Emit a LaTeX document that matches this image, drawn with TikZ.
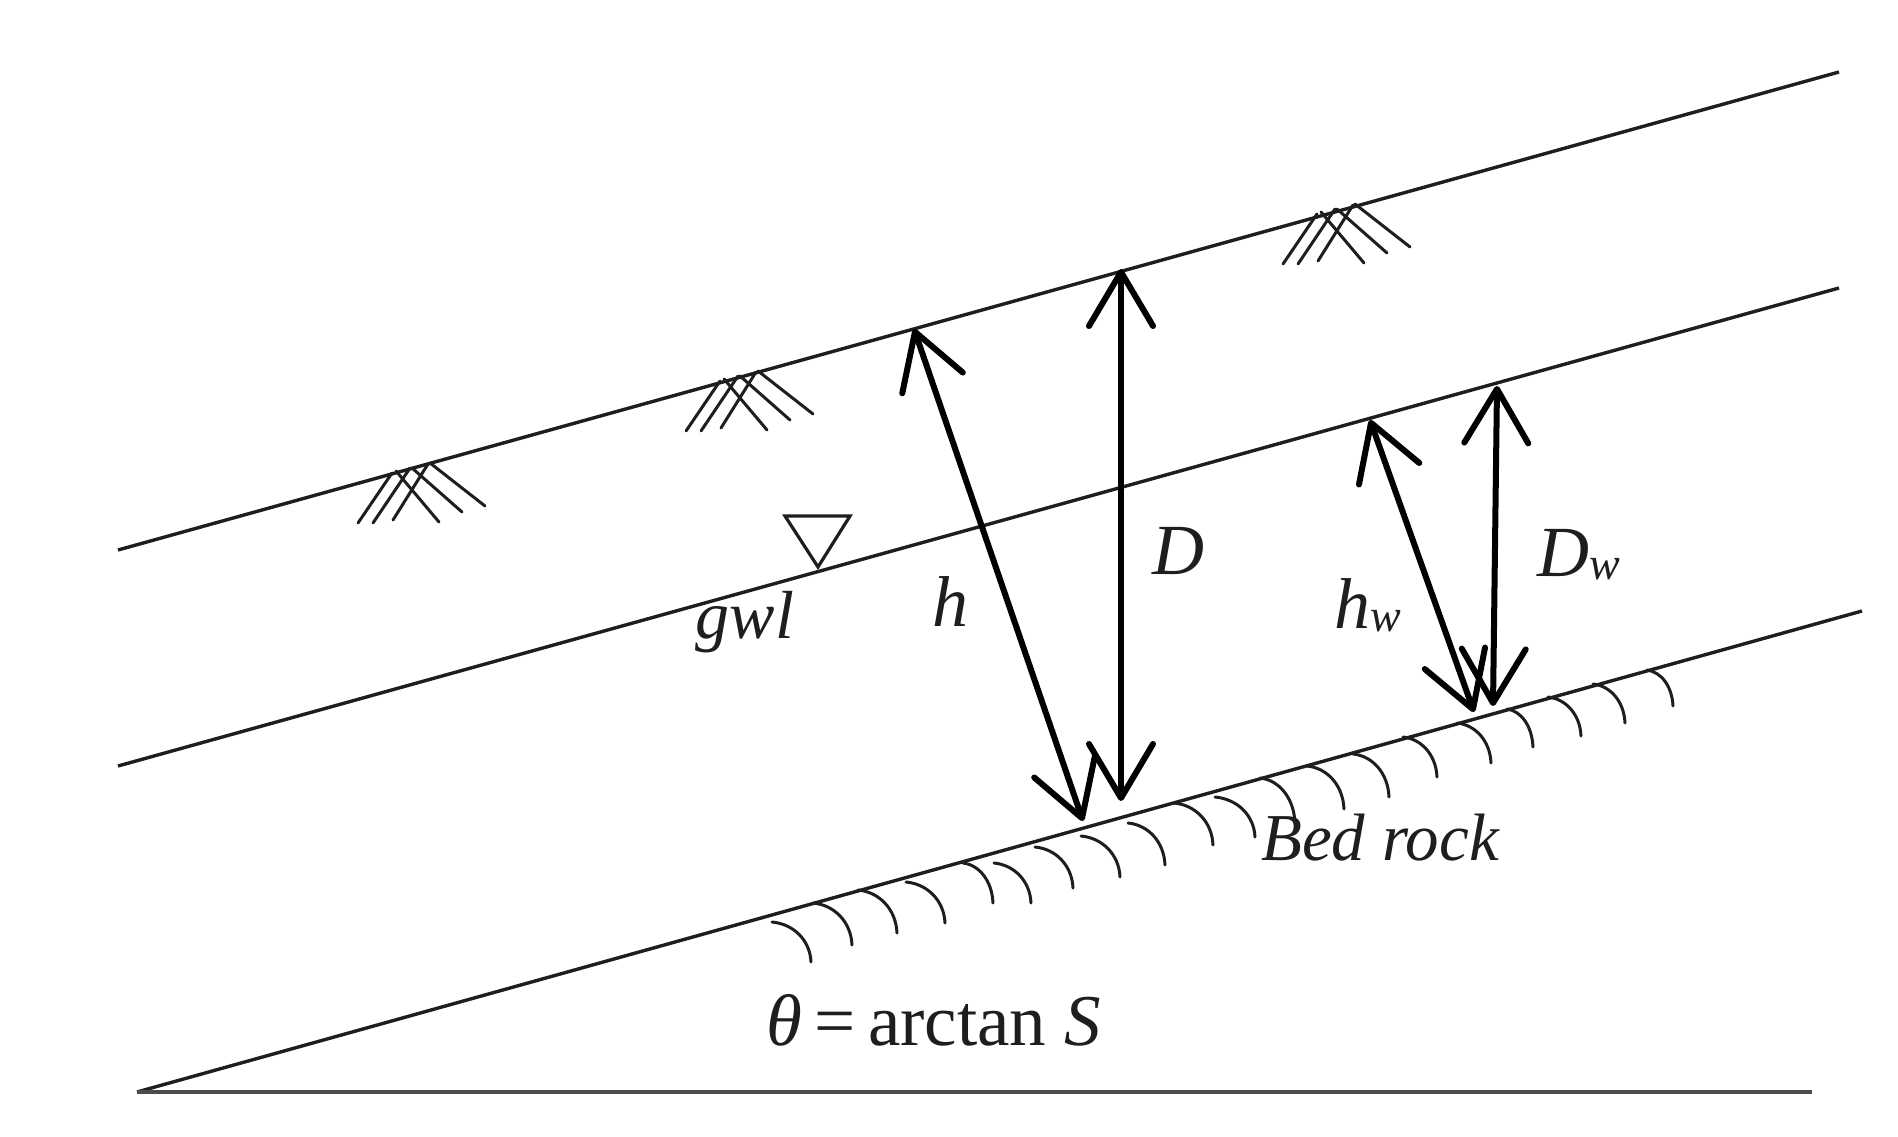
\documentclass[tikz,border=0pt]{standalone}
\usepackage{fontspec}
\setmainfont{Liberation Serif}
\usetikzlibrary{arrows.meta}
\definecolor{ink}{HTML}{1E1E1E}
\tikzset{
  ground/.style={line width=3.4pt,draw=ink},
  base/.style={line width=3.8pt,draw=black!70},
  thin mark/.style={line width=3pt,draw=ink,line cap=round},
  rockarc/.style={line width=3pt,draw=ink,line cap=round},
  dim/.style={line width=6pt,draw=black,{Straight Barb[length=54pt,width=64pt,line width=6pt,round]}-{Straight Barb[length=54pt,width=64pt,line width=6pt,round]}},
  lbl/.style={inner sep=0pt,text=ink,font=\fontsize{72}{76}\selectfont\itshape},
  smalllbl/.style={inner sep=0pt,text=ink,font=\fontsize{67}{70}\selectfont\itshape},
  wtr/.style={line width=3.2pt,draw=ink,line join=miter}
}
\begin{document}
\begin{tikzpicture}[x=1pt,y=-1pt]
\useasboundingbox (0,0) rectangle (1898,1137);
% slope lines
\coordinate (topL) at (118,550);
\coordinate (topR) at (1839,72);
\coordinate (gwlL) at (118,766);
\coordinate (gwlR) at (1839,288);
\coordinate (bedL) at (137,1092);
\coordinate (bedR) at (1862,611);
\coordinate (horR) at (1812,1092);
\draw[ground] (topL) -- (topR);
\draw[ground] (gwlL) -- (gwlR);
\draw[ground] (bedL) -- (bedR);
\draw[base] (bedL) -- (horR);
% ground surface marks
\foreach \ox/\oy in {0/0,328/-92,925/-259}{
  \begin{scope}[shift={(\ox,\oy)}]
    \draw[thin mark] (358,523) -- (392,473);
    \draw[thin mark] (373,523) -- (410,468);
    \draw[thin mark] (393,520) -- (428,464);
    \draw[thin mark] (396,471) -- (439,522);
    \draw[thin mark] (412,468) -- (462,512);
    \draw[thin mark] (430,463) -- (485,506);
  \end{scope}
}
% bed rock marks
\foreach \x/\y/\d/\h in {772/922/39/40,813/903/39/42,858/890/39/43,906/882/39/41,963/863/30/40,994/863/37/40,1035/847/38/41,1081/836/39/41,1128/823/37/42,1174/803/39/42,1215/797/40/40,1260/778/35/45,1307/766/37/43,1353/754/36/43,1403/737/34/40,1457/723/34/40,1507/709/26/38,1548/697/33/39,1593/684/32/39,1647/670/26/36}{
  \draw[rockarc] (\x,\y) .. controls (\x+0.55*\d,\y+2) and (\x+\d-1,\y+0.45*\h) .. (\x+\d,\y+\h);
}
% water table symbol
\coordinate (wA) at (785,516);
\coordinate (wB) at (850,516);
\coordinate (wC) at (818,567);
\draw[wtr] (wA) -- (wB) -- (wC) -- cycle;
% dimension arrows
\coordinate (hT) at (914,329);
\coordinate (hB) at (1083,821);
\coordinate (dT) at (1121,269);
\coordinate (dB) at (1121,801);
\coordinate (hwT) at (1370,420);
\coordinate (hwB) at (1474,712);
\coordinate (dwT) at (1497,386);
\coordinate (dwB) at (1493,706);
\draw[dim] (hT) -- (hB);
\draw[dim] (dT) -- (dB);
\draw[dim] (hwT) -- (hwB);
\draw[dim] (dwT) -- (dwB);
% labels
\node[lbl] (lh) at (950,602) {h};
\node[lbl] (lD) at (1178,551) {D};
\node[lbl] (lhw) at (1368,605) {h\raisebox{-3pt}{\fontsize{46}{48}\selectfont w}};
\node[lbl] (lDw) at (1579,555) {D\raisebox{-3pt}{\fontsize{46}{48}\selectfont w}};
\node[lbl,font=\fontsize{68}{72}\selectfont\itshape] (lgwl) at (745,622) {gwl};
\node[smalllbl] (lbed) at (1380,838) {Bed rock};
\node[inner sep=0pt,text=ink,font=\fontsize{73}{76}\selectfont] (ltheta) at (934,1020) {\textit{θ}\,=\,arctan \textit{S}};
\end{tikzpicture}
\end{document}
